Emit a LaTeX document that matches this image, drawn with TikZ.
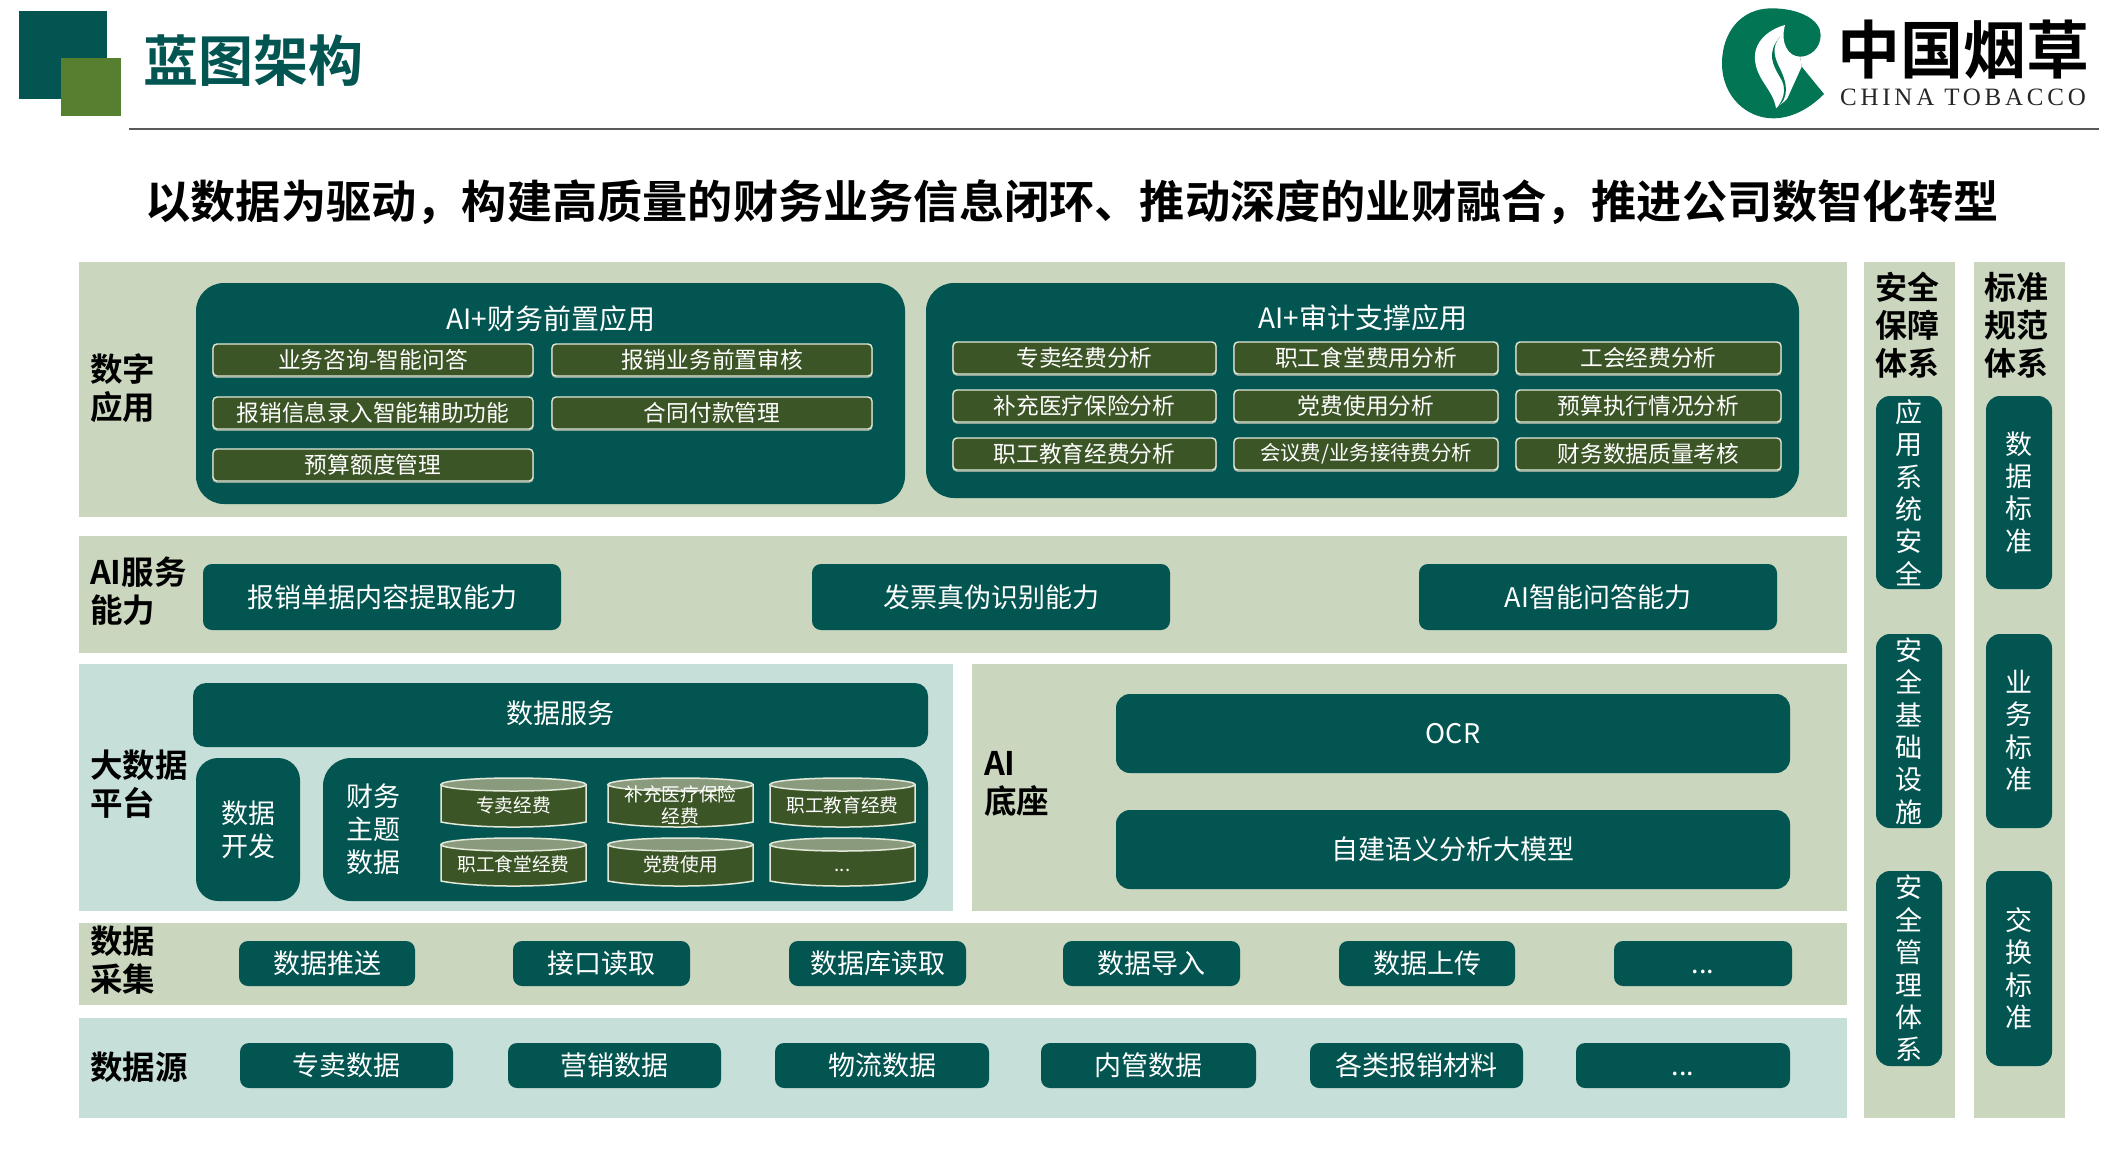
\documentclass[tikz,border=0pt]{standalone}
\usepackage{fontspec}
\setmainfont{Noto Sans CJK SC}[BoldFont={Noto Sans CJK SC Bold}]
\newfontfamily\logoserif[LetterSpace=15]{Liberation Serif}
\definecolor{teal1}{HTML}{025551}
\definecolor{sage}{HTML}{CAD6BE}
\definecolor{mist}{HTML}{C7DFD9}
\definecolor{moss}{HTML}{3C5526}
\definecolor{leaf}{HTML}{56802F}
\definecolor{logog}{HTML}{027554}
\definecolor{rim}{HTML}{E3E9DA}
\definecolor{lidc}{HTML}{8A9A7C}
\definecolor{rimlow}{HTML}{8FA394}
\tikzset{
  base/.style={inner sep=0pt,outer sep=0pt,align=center},
  band/.style={base,fill=sage},
  bandb/.style={base,fill=mist},
  panel/.style={base,fill=teal1,text=white,rounded corners=28pt,font=\fontsize{27}{33}\selectfont},
  tbox/.style={base,fill=teal1,text=white,rounded corners=9pt,font=\fontsize{27}{33}\selectfont},
  vbox/.style={base,fill=teal1,text=white,rounded corners=14pt,font=\fontsize{27}{32.4}\selectfont},
  btn/.style={base,fill=moss,draw=rim,line width=1.4pt,rounded corners=4pt,text=white,font=\fontsize{22.7}{26}\selectfont,
    preaction={draw=rimlow,line width=1.4pt,transform canvas={yshift=-1.2pt}}},
  lab/.style={inner sep=0pt,outer sep=0pt,anchor=west,align=left,font=\bfseries\fontsize{32.5}{38.5}\selectfont},
  sidelab/.style={inner sep=0pt,outer sep=0pt,align=center,font=\bfseries\fontsize{32}{38}\selectfont},
  cyltext/.style={inner sep=0pt,outer sep=0pt,align=center,text=white,font=\fontsize{18.7}{22}\selectfont},
  cylbody/.style={fill=moss,draw=rim,line width=1.5pt},
  cyllid/.style={fill=lidc,draw=rim,line width=1.5pt}
}
\newcommand{\bx}[7]{%
  \pgfmathsetmacro\bxw{#4-#2}\pgfmathsetmacro\bxh{#5-#3}%
  \pgfmathsetmacro\bxx{(#2+#4)/2}\pgfmathsetmacro\bxy{(#3+#5)/2}%
  \node[#6,minimum width=\bxw pt,minimum height=\bxh pt] (#1) at (\bxx,\bxy) {#7};}
\newcommand{\cyl}[6]{% name x1 ytop x2 ybot text
  \pgfmathsetmacro\cxm{(#2+#4)/2}\pgfmathsetmacro\crx{(#4-#2)/2}%
  \pgfmathsetmacro\cyt{#3+6.5}\pgfmathsetmacro\cyb{#5-5}\pgfmathsetmacro\cym{(#3+#5)/2+2.5}%
  \pgfmathsetmacro\cca{#2+35}\pgfmathsetmacro\ccb{#4-35}\pgfmathsetmacro\ccy{#5+1.7}%
  \draw[cylbody] (#2,\cyt) -- (#2,\cyb) .. controls (\cca,\ccy) and (\ccb,\ccy) .. (#4,\cyb) -- (#4,\cyt) -- cycle;
  \draw[cyllid] (\cxm,\cyt) ellipse [x radius=\crx,y radius=6.5];
  \node[cyltext] (#1) at (\cxm,\cym) {#6};}
\newcommand{\dotsline}{\vphantom{数}...}
\newcommand{\fwc}{\char"FF0C\relax}
\begin{document}
\begin{tikzpicture}[x=1pt,y=-1pt]
\useasboundingbox (0,0) rectangle (2115,1163);
% header
\bx{sqA}{19}{11}{107}{99}{base,fill=teal1}{}
\bx{sqB}{61}{58}{121}{116}{base,fill=leaf}{}
\node[inner sep=0pt,text=teal1,font=\bfseries\fontsize{55}{55}\selectfont] (ttl) at (253,61) {蓝图架构};
\coordinate (ruleA) at (129,129);
\coordinate (ruleB) at (2099,129);
\draw[color=black!65,line width=1.4pt] (ruleA) -- (ruleB);
\node[inner sep=0pt,font=\bfseries\fontsize{45.2}{45.2}\selectfont] (head) at (1072,202) {以数据为驱动\fwc 构建高质量的财务业务信息闭环、推动深度的业财融合\fwc 推进公司数智化转型};
% logo
\begin{scope}[shift={(1700,0)},x=0.3333pt,y=-0.3333pt]
\fill[logog] (215,25) .. controls (300,25) and (362,60) .. (362,105) .. controls (362,145) and (330,170) .. (300,170) -- (305,200) -- (372,282) .. controls (335,320) and (280,355) .. (220,355) .. controls (140,355) and (66,290) .. (66,190) .. controls (66,100) and (120,25) .. (215,25) -- cycle;
\fill[white] (255,75) .. controls (200,90) and (160,130) .. (165,180) .. controls (170,240) and (220,270) .. (228,325) .. controls (245,310) and (255,305) .. (262,295) -- (305,200) -- (300,170) .. controls (265,170) and (240,130) .. (255,75) -- cycle;
\fill[logog] (240,110) .. controls (200,160) and (215,190) .. (245,240) .. controls (260,270) and (250,300) .. (230,325) .. controls (270,290) and (262,250) .. (237,200) .. controls (222,170) and (215,140) .. (240,110) -- cycle;
\end{scope}
\node[inner sep=0pt,font=\bfseries\fontsize{63}{63}\selectfont] (lgA) at (1963,50) {中国烟草};
\node[inner sep=0pt,text=black!85,font=\logoserif\fontsize{25}{25}\selectfont] (lgB) at (1963,97) {CHINA TOBACCO};
% bands
\bx{b1}{79}{262}{1847}{517}{band}{}
\bx{b2}{79}{536}{1847}{653}{band}{}
\bx{b3}{79}{664}{953}{911}{bandb}{}
\bx{b3r}{972}{664}{1847}{911}{band}{}
\bx{b4}{79}{923}{1847}{1005}{band}{}
\bx{b5}{79}{1018}{1847}{1118}{bandb}{}
\bx{s1}{1864}{262}{1955}{1118}{band}{}
\bx{s2}{1974}{262}{2065}{1118}{band}{}
% left labels
\node[lab] (lA) at (90,388) {数字\\应用};
\node[lab] (lB) at (90,591) {AI服务\\能力};
\node[lab] (lC) at (90,784) {大数据\\平台};
\node[lab] (lD) at (984,784) {AI\\底座};
\node[lab] (lE) at (90,960) {数据\\采集};
\node[lab] (lF) at (90,1067) {数据源};
\node[sidelab] (lG) at (1907,325) {安全\\保障\\体系};
\node[sidelab] (lH) at (2016,325) {标准\\规范\\体系};
% digital apps
\bx{pL}{196}{283}{905}{504}{panel}{}
\bx{pR}{926}{283}{1799}{498}{panel}{}
\node[text=white,inner sep=0pt,font=\fontsize{28}{28}\selectfont] (pLt) at (551,319) {AI+财务前置应用};
\node[text=white,inner sep=0pt,font=\fontsize{28}{28}\selectfont] (pRt) at (1363,318) {AI+审计支撑应用};
\bx{a1}{213}{344}{533}{376}{btn}{业务咨询-智能问答}
\bx{a2}{552}{344}{872}{376}{btn}{报销业务前置审核}
\bx{a3}{213}{397}{533}{429}{btn}{报销信息录入智能辅助功能}
\bx{a4}{552}{397}{872}{429}{btn}{合同付款管理}
\bx{a5}{213}{449}{533}{481}{btn}{预算额度管理}
\bx{c1}{953}{342}{1216}{374}{btn}{专卖经费分析}
\bx{c2}{1234}{342}{1498}{374}{btn}{职工食堂费用分析}
\bx{c3}{1516}{342}{1781}{374}{btn}{工会经费分析}
\bx{c4}{953}{390}{1216}{422}{btn}{补充医疗保险分析}
\bx{c5}{1234}{390}{1498}{422}{btn}{党费使用分析}
\bx{c6}{1516}{390}{1781}{422}{btn}{预算执行情况分析}
\bx{c7}{953}{438}{1216}{470}{btn}{职工教育经费分析}
\bx{c8}{1234}{438}{1498}{470}{btn,font=\fontsize{20.4}{26}\selectfont}{会议费/业务接待费分析}
\bx{c9}{1516}{438}{1781}{470}{btn}{财务数据质量考核}
% AI services
\bx{d1}{203}{564}{561}{630}{tbox}{报销单据内容提取能力}
\bx{d2}{812}{564}{1170}{630}{tbox}{发票真伪识别能力}
\bx{d3}{1419}{564}{1777}{630}{tbox}{AI智能问答能力}
% big data
\bx{e1}{193}{683}{928}{747}{tbox,rounded corners=13pt}{\raisebox{5pt}{数据服务}}
\bx{e2}{196}{758}{300}{901}{tbox,rounded corners=22pt}{数据\\开发}
\bx{e3}{323}{758}{928}{901}{panel}{}
\node[inner sep=0pt,text=white,align=center,font=\fontsize{27}{33}\selectfont] (e3t) at (373,829) {财务\\主题\\数据};
\cyl{k1}{441}{778}{586}{827}{专卖经费}
\cyl{k2}{608}{778}{753}{827}{补充医疗保险\\经费}
\cyl{k3}{770}{778}{915}{827}{职工教育经费}
\cyl{k4}{441}{838}{586}{886}{\raisebox{2pt}{职工食堂经费}}
\cyl{k5}{608}{838}{753}{886}{\raisebox{2pt}{党费使用}}
\cyl{k6}{770}{838}{915}{886}{\raisebox{2pt}{\dotsline}}
% AI base
\bx{f1}{1116}{694}{1790}{773}{tbox,rounded corners=14pt}{OCR}
\bx{f2}{1116}{810}{1790}{889}{tbox,rounded corners=14pt}{自建语义分析大模型}
% collection
\bx{g1}{239}{941}{415}{986}{tbox}{数据推送}
\bx{g2}{513}{941}{690}{986}{tbox}{接口读取}
\bx{g3}{789}{941}{966}{986}{tbox}{数据库读取}
\bx{g4}{1063}{941}{1240}{986}{tbox}{数据导入}
\bx{g5}{1339}{941}{1515}{986}{tbox}{数据上传}
\bx{g6}{1614}{941}{1792}{986}{tbox}{\dotsline}
% sources
\bx{h1}{240}{1043}{453}{1088}{tbox}{专卖数据}
\bx{h2}{508}{1043}{721}{1088}{tbox}{营销数据}
\bx{h3}{775}{1043}{989}{1088}{tbox}{物流数据}
\bx{h4}{1041}{1043}{1256}{1088}{tbox}{内管数据}
\bx{h5}{1310}{1043}{1523}{1088}{tbox}{各类报销材料}
\bx{h6}{1576}{1043}{1790}{1088}{tbox}{\dotsline}
% side columns
\bx{v1}{1876}{396}{1942}{589}{vbox}{应\\用\\系\\统\\安\\全}
\bx{v2}{1876}{634}{1942}{828}{vbox}{安\\全\\基\\础\\设\\施}
\bx{v3}{1876}{871}{1942}{1066}{vbox}{安\\全\\管\\理\\体\\系}
\bx{w1}{1986}{396}{2052}{589}{vbox}{数\\据\\标\\准}
\bx{w2}{1986}{634}{2052}{828}{vbox}{业\\务\\标\\准}
\bx{w3}{1986}{871}{2052}{1066}{vbox}{交\\换\\标\\准}
\end{tikzpicture}
\end{document}
